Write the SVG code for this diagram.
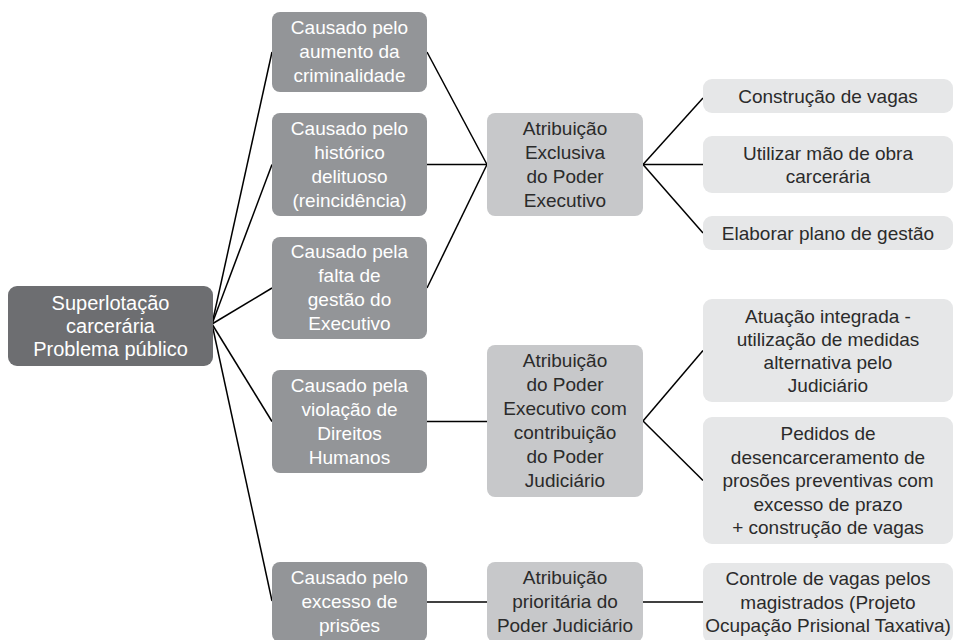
<svg xmlns="http://www.w3.org/2000/svg" width="955" height="640" viewBox="0 0 955 640">
<style>
text{font-family:"Liberation Sans",Arial,sans-serif;font-size:19px;text-anchor:middle}
.root text{font-size:20px}
.root rect{fill:#6d6e71}
.cause rect{fill:#939598}
.mid rect{fill:#c7c8ca}
.leaf rect{fill:#e6e7e8}
.root text,.cause text{fill:#ffffff}
.mid text,.leaf text{fill:#2b2b2b}
#connectors line{stroke:#000;stroke-width:1.5}
</style>
<rect width="955" height="640" fill="#ffffff"/>
<g id="connectors">
<line x1="212" y1="324" x2="272" y2="52"/>
<line x1="212" y1="324" x2="272" y2="164.5"/>
<line x1="212" y1="324" x2="272" y2="288"/>
<line x1="212" y1="324" x2="272" y2="421.5"/>
<line x1="212" y1="324" x2="272" y2="601"/>
<line x1="427" y1="52" x2="487" y2="164.5"/>
<line x1="427" y1="164.5" x2="487" y2="164.5"/>
<line x1="427" y1="288" x2="487" y2="164.5"/>
<line x1="427" y1="421.5" x2="487" y2="421.5"/>
<line x1="427" y1="602" x2="487" y2="602"/>
<line x1="643" y1="164.5" x2="703" y2="98"/>
<line x1="643" y1="164.5" x2="703" y2="164.5"/>
<line x1="643" y1="164.5" x2="703" y2="233"/>
<line x1="643" y1="421" x2="703" y2="350.5"/>
<line x1="643" y1="421" x2="703" y2="480.5"/>
<line x1="643" y1="602" x2="703" y2="602"/>
</g>
<g id="root" class="root">
<rect x="8" y="286" width="205" height="80" rx="9"/>
<text x="110.5" y="310">Superlotação</text>
<text x="110.5" y="333">carcerária</text>
<text x="110.5" y="356">Problema público</text>
</g>
<g id="cause1" class="cause">
<rect x="272" y="12" width="155" height="80" rx="8"/>
<text x="349.5" y="34">Causado pelo</text>
<text x="349.5" y="58">aumento da</text>
<text x="349.5" y="82">criminalidade</text>
</g>
<g id="cause2" class="cause">
<rect x="272" y="113" width="155" height="103" rx="8"/>
<text x="349.5" y="135">Causado pelo</text>
<text x="349.5" y="159">histórico</text>
<text x="349.5" y="183">delituoso</text>
<text x="349.5" y="207">(reincidência)</text>
</g>
<g id="cause3" class="cause">
<rect x="272" y="237" width="155" height="102" rx="8"/>
<text x="349.5" y="258">Causado pela</text>
<text x="349.5" y="282">falta de</text>
<text x="349.5" y="306">gestão do</text>
<text x="349.5" y="330">Executivo</text>
</g>
<g id="cause4" class="cause">
<rect x="272" y="370" width="155" height="103" rx="8"/>
<text x="349.5" y="392">Causado pela</text>
<text x="349.5" y="416">violação de</text>
<text x="349.5" y="440">Direitos</text>
<text x="349.5" y="464">Humanos</text>
</g>
<g id="cause5" class="cause">
<rect x="272" y="562" width="155" height="80" rx="8"/>
<text x="349.5" y="584">Causado pelo</text>
<text x="349.5" y="608">excesso de</text>
<text x="349.5" y="632">prisões</text>
</g>
<g id="mid1" class="mid">
<rect x="487" y="113" width="156" height="103" rx="8"/>
<text x="565" y="135">Atribuição</text>
<text x="565" y="159">Exclusiva</text>
<text x="565" y="183">do Poder</text>
<text x="565" y="207">Executivo</text>
</g>
<g id="mid2" class="mid">
<rect x="487" y="345" width="156" height="152" rx="8"/>
<text x="565" y="367">Atribuição</text>
<text x="565" y="391">do Poder</text>
<text x="565" y="415">Executivo com</text>
<text x="565" y="439">contribuição</text>
<text x="565" y="463">do Poder</text>
<text x="565" y="487">Judiciário</text>
</g>
<g id="mid3" class="mid">
<rect x="487" y="562" width="156" height="80" rx="8"/>
<text x="565" y="584">Atribuição</text>
<text x="565" y="608">prioritária do</text>
<text x="565" y="632">Poder Judiciário</text>
</g>
<g id="leaf1" class="leaf">
<rect x="703" y="79" width="250" height="34" rx="9"/>
<text x="828" y="102.5">Construção de vagas</text>
</g>
<g id="leaf2" class="leaf">
<rect x="703" y="136" width="250" height="57" rx="9"/>
<text x="828" y="159.5">Utilizar mão de obra</text>
<text x="828" y="182.5">carcerária</text>
</g>
<g id="leaf3" class="leaf">
<rect x="703" y="216" width="250" height="34" rx="9"/>
<text x="828" y="239.5">Elaborar plano de gestão</text>
</g>
<g id="leaf4" class="leaf">
<rect x="703" y="299" width="250" height="103" rx="9"/>
<text x="828" y="322.5">Atuação integrada -</text>
<text x="828" y="345.5">utilização de medidas</text>
<text x="828" y="368.5">alternativa pelo</text>
<text x="828" y="391.5">Judiciário</text>
</g>
<g id="leaf5" class="leaf">
<rect x="703" y="417" width="250" height="127" rx="9"/>
<text x="828" y="440">Pedidos de</text>
<text x="828" y="463.5">desencarceramento de</text>
<text x="828" y="487">prosões preventivas com</text>
<text x="828" y="510.5">excesso de prazo</text>
<text x="828" y="534">+ construção de vagas</text>
</g>
<g id="leaf6" class="leaf">
<rect x="703" y="563" width="250" height="80" rx="9"/>
<text x="828" y="585">Controle de vagas pelos</text>
<text x="828" y="608.5">magistrados (Projeto</text>
<text x="828" y="632">Ocupação Prisional Taxativa)</text>
</g>
</svg>
